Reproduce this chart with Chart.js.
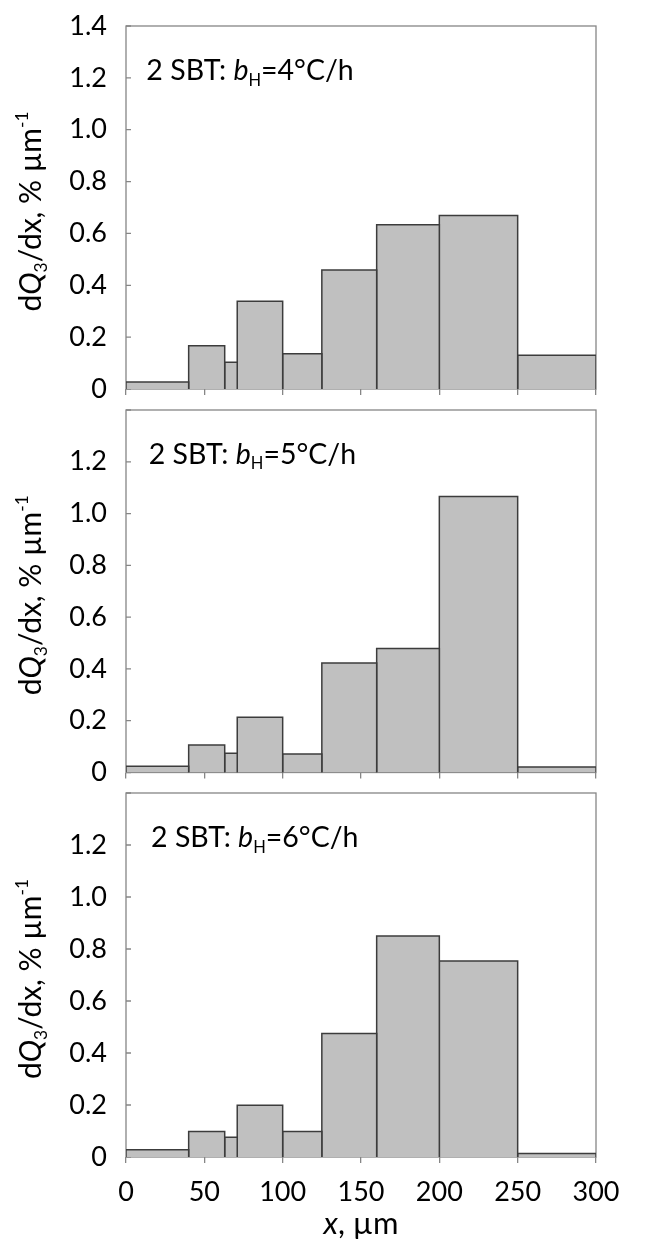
<!DOCTYPE html>
<html>
<head>
<meta charset="utf-8">
<script src="https://cdn.jsdelivr.net/npm/chart.js@4.4.1/dist/chart.umd.min.js"></script>
<style>
  html, body { margin: 0; padding: 0; background: #fff; }
  #wrap { position: relative; width: 659px; height: 1242px; background: #fff; }
  canvas { position: absolute; left: 0; }
</style>
</head>
<body>
<div id="wrap">
  <canvas id="p1" width="659" height="400" style="top:0px"></canvas>
  <canvas id="p2" width="659" height="385" style="top:400px"></canvas>
  <canvas id="p3" width="659" height="457" style="top:785px"></canvas>
</div>
<script>
// particle size classes (µm) and dQ3/dx per class, one array per heating rate
const binEdges = [0, 40, 63, 71, 100, 125, 160, 200, 250, 300]
const rate4 = [0.027, 0.167, 0.103, 0.338, 0.136, 0.459, 0.633, 0.669, 0.130]
const rate5 = [0.024, 0.106, 0.074, 0.213, 0.071, 0.423, 0.479, 1.066, 0.021]
const rate6 = [0.028, 0.098, 0.076, 0.199, 0.098, 0.475, 0.850, 0.754, 0.013]
const yTickLabels = ['0', '0.2', '0.4', '0.6', '0.8', '1.0', '1.2', '1.4']
const xTickLabels = ['0', '50', '100', '150', '200', '250', '300']

const COLORS = {
  fill: '#c0c0c0',
  edge: '#3c3c3c',
  frame: '#868686',
  text: '#000000',
}
const FONT = 'Lato'

const PANELS = [
  { id: 'p1', rates: rate4, rate: '4', padTop: 26, xHeight: 11, topLabel: true, showX: false, noteX: 13 },
  { id: 'p2', rates: rate5, rate: '5', padTop: 10, xHeight: 12.5, topLabel: false, showX: false, noteX: 14.5 },
  { id: 'p3', rates: rate6, rate: '6', padTop: 8, xHeight: 85, topLabel: false, showX: true, noteX: 16 },
]

function richWidth(ctx, parts, size) {
  let w = 0
  for (const p of parts) {
    const s = p.sub || p.sup ? size * 0.58 : size
    ctx.font = `${p.it ? 'italic ' : ''}${s}px ${FONT}`
    w += ctx.measureText(p.t).width
  }
  return w
}

function drawRich(ctx, parts, x, y, size) {
  let cx = x
  for (const p of parts) {
    const s = p.sub || p.sup ? size * 0.58 : size
    ctx.font = `${p.it ? 'italic ' : ''}${s}px ${FONT}`
    const dy = p.sub ? size * 0.2 : p.sup ? -size * 0.42 : 0
    ctx.fillText(p.t, cx, y + dy)
    cx += ctx.measureText(p.t).width
  }
}

const yTitle = [
  { t: 'd' }, { t: 'Q', it: true }, { t: '3', sub: true }, { t: '/dx, % µm' }, { t: '-1', sup: true },
]
const xTitle = [{ t: 'x', it: true }, { t: ', µm' }]

const decor = {
  id: 'decor',
  beforeDatasetsDraw(chart) {
    const { ctx, chartArea: a } = chart
    ctx.save()
    ctx.strokeStyle = COLORS.frame
    ctx.lineWidth = 1.3
    ctx.strokeRect(a.left, a.top, a.right - a.left, a.bottom - a.top)
    // inside tick marks on the value axis
    const ys = chart.scales.y
    ctx.beginPath()
    for (const t of ys.ticks) {
      const py = ys.getPixelForValue(t.value)
      ctx.moveTo(a.left, py)
      ctx.lineTo(a.left + 5, py)
    }
    ctx.stroke()
    ctx.restore()
  },
  afterDraw(chart) {
    const { ctx, chartArea: a } = chart
    const p = chart.options.plugins.decor
    ctx.save()
    ctx.fillStyle = COLORS.text
    ctx.textBaseline = 'alphabetic'
    ctx.textAlign = 'left'

    const note = [{ t: '2 SBT: ' }, { t: 'b', it: true }, { t: 'H', sub: true }, { t: `=${p.rate}°C/h` }]
    drawRich(ctx, note, chart.scales.x.getPixelForValue(p.noteX), chart.scales.y.getPixelForValue(1.2) + 2, 28.5)

    const w = richWidth(ctx, yTitle, 30)
    ctx.save()
    ctx.translate(41, (a.top + a.bottom) / 2 + 4)
    ctx.rotate(-Math.PI / 2)
    drawRich(ctx, yTitle, -w / 2, 0, 30)
    ctx.restore()

    if (p.showX) {
      const xw = richWidth(ctx, xTitle, 31)
      drawRich(ctx, xTitle, (a.left + a.right) / 2 - xw / 2, a.bottom + 77, 31)
    }
    ctx.restore()
  },
}

function binDatasets(rates) {
  return rates.map((v, i) => ({
    data: [
      { x: binEdges[i], y: 0 },
      { x: binEdges[i], y: v },
      { x: binEdges[i + 1], y: v },
      { x: binEdges[i + 1], y: 0 },
    ],
    borderColor: COLORS.edge,
    backgroundColor: COLORS.fill,
    borderWidth: 1.5,
    borderJoinStyle: 'miter',
    pointRadius: 0,
    tension: 0,
    fill: 'origin',
  }))
}

for (const panel of PANELS) {
  new Chart(document.getElementById(panel.id), {
    type: 'line',
    data: { datasets: binDatasets(panel.rates) },
    options: {
      responsive: false,
      animation: false,
      events: [],
      layout: { padding: { top: panel.padTop, right: 63, left: 0, bottom: 0 } },
      plugins: {
        legend: { display: false },
        tooltip: { enabled: false },
        decor: { rate: panel.rate, noteX: panel.noteX, showX: panel.showX },
      },
      scales: {
        x: {
          type: 'linear',
          min: 0,
          max: 300,
          afterFit: s => {
            s.height = panel.xHeight
            s.paddingLeft = 0
            s.paddingRight = 0
          },
          border: { display: false },
          grid: { drawOnChartArea: false, drawTicks: true, tickLength: 6, color: COLORS.frame, lineWidth: 1.3 },
          ticks: {
            display: panel.showX,
            stepSize: 50,
            maxRotation: 0,
            padding: 13,
            color: COLORS.text,
            font: { family: FONT, size: 27 },
            callback: (v, i) => xTickLabels[i],
          },
        },
        y: {
          min: 0,
          max: 1.4,
          afterFit: s => {
            s.width = 126
            s.paddingTop = 0
            s.paddingBottom = 0
          },
          border: { display: false },
          grid: { display: false, drawTicks: false },
          ticks: {
            stepSize: 0.2,
            padding: 19,
            color: COLORS.text,
            font: { family: FONT, size: 27 },
            callback: (v, i) => (i === yTickLabels.length - 1 && !panel.topLabel ? '' : yTickLabels[i]),
          },
        },
      },
    },
    plugins: [decor],
  })
}
</script>
</body>
</html>
